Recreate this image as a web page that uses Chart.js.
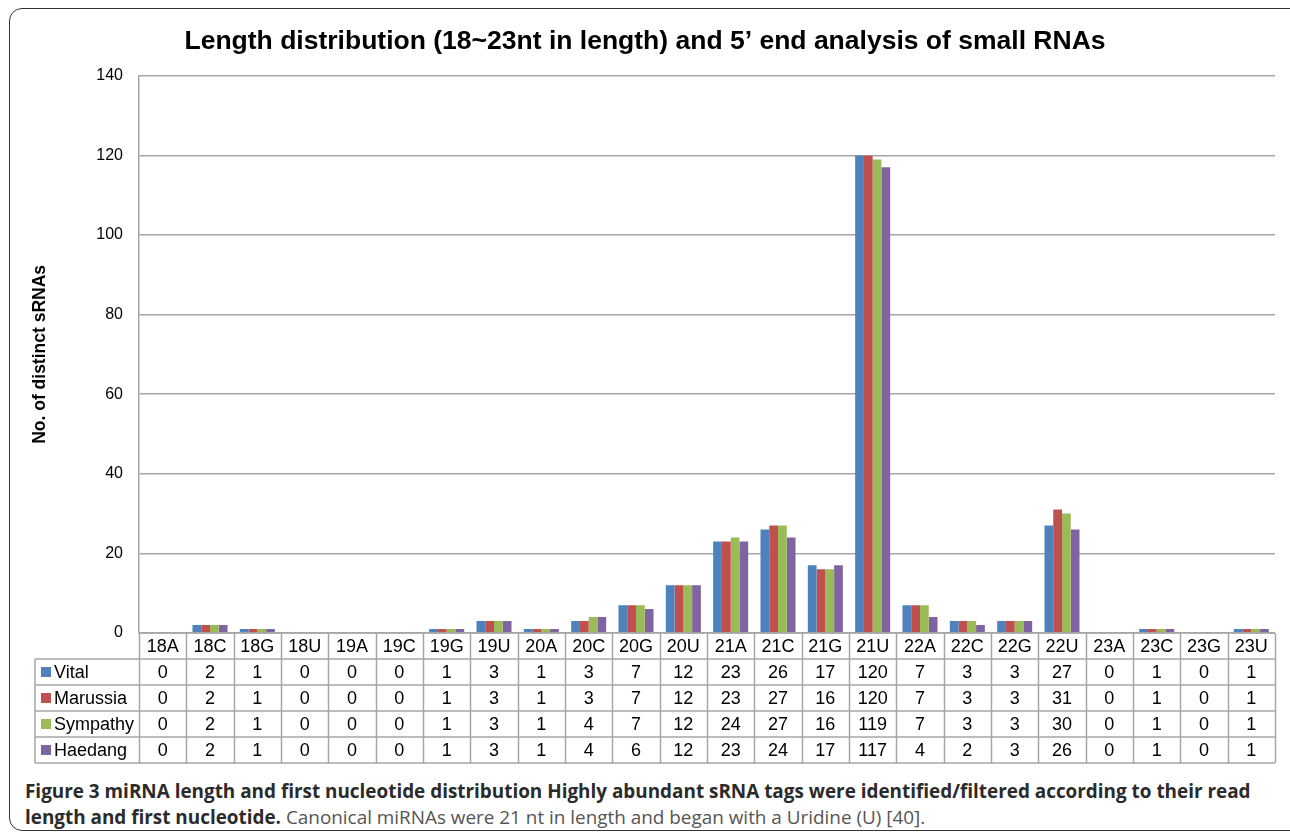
<!DOCTYPE html>
<html>
<head>
<meta charset="utf-8">
<script src="https://cdn.jsdelivr.net/npm/chart.js@4/dist/chart.umd.min.js"></script>
<style>
  html, body { margin: 0; padding: 0; background: #fff; }
  body { width: 1290px; height: 835px; position: relative; overflow: hidden; }
  #frame {
    position: absolute; left: 9px; top: 8px; width: 1300px; height: 823px;
    border: 1.5px solid #333; border-radius: 13px; box-sizing: border-box;
  }
  #wrap { position: absolute; left: 0; top: 0; width: 1290px; height: 775px; }
  #caption {
    position: absolute; left: 25px; top: 778px; width: 1260px;
    font-family: "Open Sans", sans-serif; font-size: 18.9px; line-height: 26px; color: #555;
  }
  #caption b { color: #2b2b2b; }
</style>
</head>
<body>
<div id="frame"></div>
<div id="wrap"><canvas id="chart"></canvas></div>
<div id="caption"><b>Figure 3 miRNA length and first nucleotide distribution Highly abundant sRNA tags were identified/filtered according to their read length and first nucleotide.</b> Canonical miRNAs were 21 nt in length and began with a Uridine (U) [40].</div>
<script>
const categories = ["18A", "18C", "18G", "18U", "19A", "19C", "19G", "19U", "20A", "20C", "20G", "20U",
  "21A", "21C", "21G", "21U", "22A", "22C", "22G", "22U", "23A", "23C", "23G", "23U"];
const vital =    [0, 2, 1, 0, 0, 0, 1, 3, 1, 3, 7, 12, 23, 26, 17, 120, 7, 3, 3, 27, 0, 1, 0, 1];
const marussia = [0, 2, 1, 0, 0, 0, 1, 3, 1, 3, 7, 12, 23, 27, 16, 120, 7, 3, 3, 31, 0, 1, 0, 1];
const sympathy = [0, 2, 1, 0, 0, 0, 1, 3, 1, 4, 7, 12, 24, 27, 16, 119, 7, 3, 3, 30, 0, 1, 0, 1];
const haedang =  [0, 2, 1, 0, 0, 0, 1, 3, 1, 4, 6, 12, 23, 24, 17, 117, 4, 2, 3, 26, 0, 1, 0, 1];
const seriesNames = ["Vital", "Marussia", "Sympathy", "Haedang"];
const seriesColors = ["#4f81bd", "#c0504d", "#9bbb59", "#8064a2"];
const yTicks = [0, 20, 40, 60, 80, 100, 120, 140];

const gridColor = "#a6a6a6";
const font = "'Liberation Sans', Arial, sans-serif";
const rowH = 26;
const tableLeft = 35;

// draws the data table (header row + one row per series) under the plot
const dataTable = {
  id: "dataTable",
  afterDraw(chart) {
    const c = chart.ctx;
    const area = chart.chartArea;
    const x = chart.scales.x;
    const step = x.getPixelForValue(1) - x.getPixelForValue(0);
    const top = area.bottom;
    const nRows = chart.data.datasets.length;
    const bottom = top + rowH * (nRows + 1);
    c.save();
    c.strokeStyle = gridColor;
    c.lineWidth = 1.5;
    c.beginPath();
    c.moveTo(area.left, top); c.lineTo(area.right, top);
    for (let r = 1; r <= nRows + 1; r++) {
      c.moveTo(tableLeft, top + r * rowH); c.lineTo(area.right, top + r * rowH);
    }
    c.moveTo(tableLeft, top + rowH); c.lineTo(tableLeft, bottom);
    for (let i = 0; i <= categories.length; i++) {
      const px = Math.round(area.left + i * step) + 0.5;
      c.moveTo(px, top); c.lineTo(px, bottom);
    }
    c.stroke();

    c.fillStyle = "#000";
    c.font = "18px " + font;
    c.textAlign = "center";
    c.textBaseline = "middle";
    categories.forEach((cat, i) => {
      c.fillText(cat, x.getPixelForValue(i), top + rowH / 2 + 1);
    });
    chart.data.datasets.forEach((ds, r) => {
      const cy = top + (r + 1) * rowH + rowH / 2 + 1;
      ds.data.forEach((v, i) => {
        c.fillText(String(v), x.getPixelForValue(i), cy);
      });
    });
    // legend keys in the row headers
    c.textAlign = "left";
    chart.data.datasets.forEach((ds, r) => {
      const cy = top + (r + 1) * rowH + rowH / 2;
      c.fillStyle = ds.backgroundColor;
      c.fillRect(tableLeft + 6, cy - 5, 10, 10);
      c.fillStyle = "#000";
      c.fillText(ds.label, tableLeft + 19, cy + 1);
    });
    c.restore();
  }
};

const datasets = [vital, marussia, sympathy, haedang].map((vals, i) => ({
  label: seriesNames[i],
  data: vals,
  backgroundColor: seriesColors[i],
  borderWidth: 0
}));

new Chart(document.getElementById("chart"), {
  type: "bar",
  data: { labels: categories, datasets: datasets },
  options: {
    responsive: true,
    maintainAspectRatio: false,
    animation: false,
    events: [],
    datasets: { bar: { barPercentage: 1, categoryPercentage: 0.74 } },
    layout: { padding: { left: 15, right: 15, top: 0, bottom: 142 } },
    plugins: {
      legend: { display: false },
      tooltip: { enabled: false },
      title: {
        display: true,
        text: "Length distribution (18~23nt in length) and 5\u2019 end analysis of small RNAs",
        color: "#000",
        font: { family: font, size: 26.5, weight: "bold" },
        padding: { top: 26, bottom: 18 }
      }
    },
    scales: {
      x: { display: false },
      y: {
        min: 0,
        max: 140,
        afterBuildTicks(scale) { scale.ticks = yTicks.map(v => ({ value: v })); },
        afterFit(scale) { scale.width = 124; },
        ticks: {
          color: "#000",
          padding: 16,
          font: { family: font, size: 16 }
        },
        grid: { color: gridColor, lineWidth: 1.5, drawTicks: false },
        border: { color: gridColor, width: 1.5 },
        title: {
          display: true,
          text: "No. of distinct sRNAs",
          color: "#000",
          font: { family: font, size: 17.5, weight: "bold" },
          padding: { top: 15, bottom: 0 }
        }
      }
    }
  },
  plugins: [dataTable]
});
</script>
</body>
</html>
